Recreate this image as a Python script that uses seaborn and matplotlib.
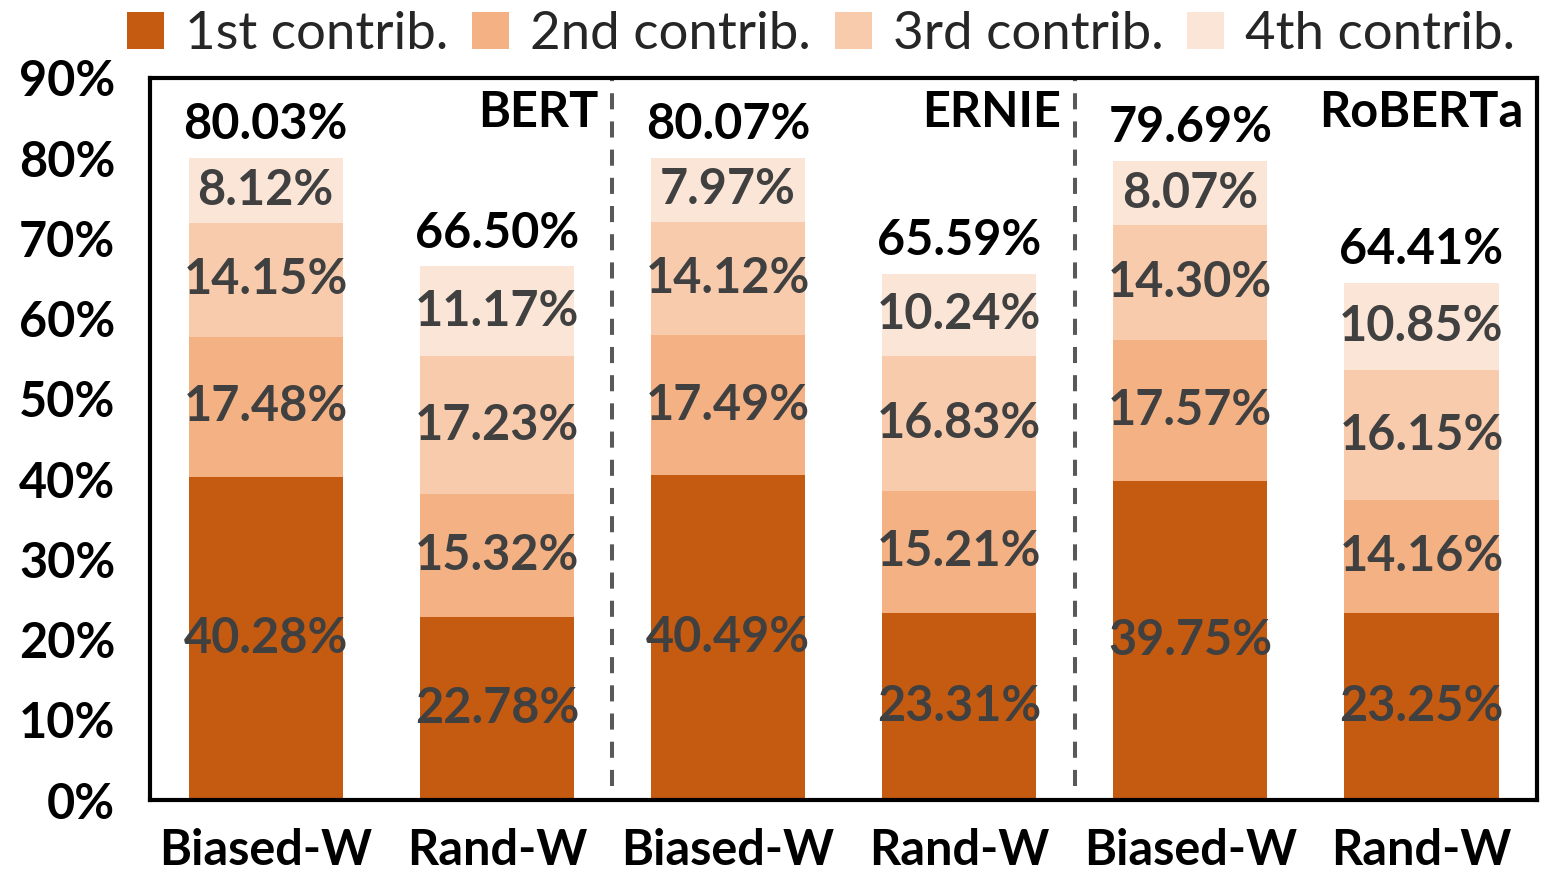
import numpy as np
import pandas as pd
import matplotlib
matplotlib.use("Agg")
import matplotlib.pyplot as plt
from matplotlib.patches import Patch
import seaborn as sns

# Data
models = ["BERT", "ERNIE", "RoBERTa"]
methods = ["Biased-W", "Rand-W", "Biased-W", "Rand-W", "Biased-W", "Rand-W"]
first = [40.28, 22.78, 40.49, 23.31, 39.75, 23.25]
second = [17.48, 15.32, 17.49, 15.21, 17.57, 14.16]
third = [14.15, 17.23, 14.12, 16.83, 14.30, 16.15]
fourth = [8.12, 11.17, 7.97, 10.24, 8.07, 10.85]
series_names = ["1st contrib.", "2nd contrib.", "3rd contrib.", "4th contrib."]
colors = ["#C55A11", "#F4B183", "#F8CBAD", "#FBE5D6"]
yticks = [0, 10, 20, 30, 40, 50, 60, 70, 80, 90]

sns.set_style("white")
plt.rcParams["font.family"] = ["Lato", "DejaVu Sans"]

df = pd.DataFrame({"bar": range(len(methods)), "method": methods,
                   "s1": first, "s2": second, "s3": third, "s4": fourth})
cols = ["s1", "s2", "s3", "s4"]
cum = df[cols].cumsum(axis=1)

FS = 35

fig = plt.figure(figsize=(15.55, 8.71), dpi=100)
ax = fig.add_axes([0.0965, 0.0815, 0.892, 0.829])

# stack by drawing cumulative heights from the top layer down
for k in range(3, -1, -1):
    sns.barplot(x=df["bar"], y=cum[cols[k]], color=colors[k], width=0.667,
                saturation=1, errorbar=None, ax=ax, linewidth=0)

# segment labels
for i in range(len(df)):
    bottom = 0
    for k, c in enumerate(cols):
        v = df.loc[i, c]
        ax.text(i, bottom + v / 2, f"{v:.2f}%", ha="center", va="center",
                fontsize=FS, fontweight="bold", color="#404040")
        bottom += v
    total = cum.loc[i, "s4"]
    ax.annotate(f"{total:.2f}%", (i, total), xytext=(0, 24), textcoords="offset points",
                ha="center", va="center", fontsize=FS, fontweight="bold", color="black")

# model group names and dividers
for g, name in enumerate(models):
    ax.text(2 * g + 1.44, 85.7, name, ha="right", va="center",
            fontsize=FS, fontweight="bold", color="black")
for g in range(len(models) - 1):
    ax.plot([2 * g + 1.5, 2 * g + 1.5], [1.8, 90], color="#595959",
            linestyle=(0, (4, 3)), linewidth=2.9)

ax.set_xlim(-0.5, 5.5)
ax.set_ylim(0, 90)
ax.set_yticks(yticks)
ax.set_yticklabels([f"{t}%" for t in yticks], fontsize=FS, fontweight="bold")
ax.set_xticks(range(len(methods)))
ax.set_xticklabels(methods, fontsize=FS, fontweight="bold")
ax.tick_params(axis="both", length=0, colors="black")
ax.tick_params(axis="y", pad=25)
ax.tick_params(axis="x", pad=20)
ax.set_xlabel("")
ax.set_ylabel("")
for sp in ax.spines.values():
    sp.set_visible(True)
    sp.set_color("black")
    sp.set_linewidth(3)

handles = [Patch(facecolor=c, edgecolor="none") for c in colors]
fig.legend(handles, series_names, loc="center", bbox_to_anchor=(0.528, 0.960),
           ncol=4, frameon=False, fontsize=38, handlelength=0.7, handleheight=0.7,
           handletextpad=0.4, columnspacing=0.45, borderaxespad=0)

fig.savefig("out.png", dpi=100)
